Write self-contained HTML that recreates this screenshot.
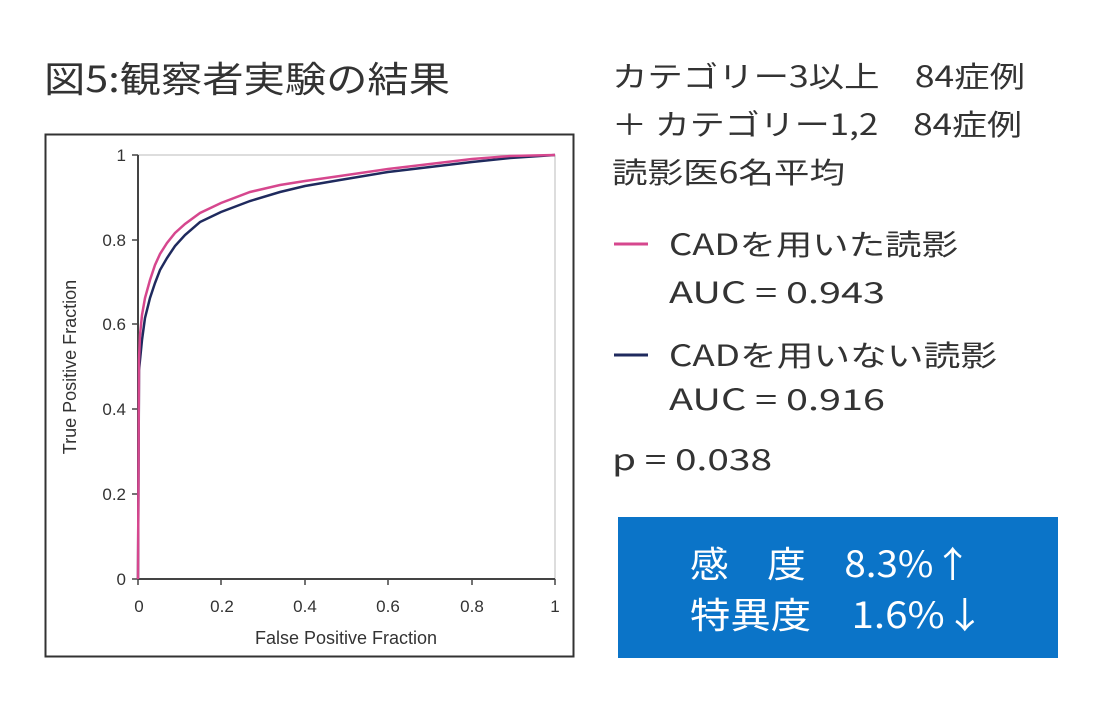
<!DOCTYPE html>
<html><head><meta charset="utf-8"><style>
html,body{margin:0;padding:0;background:#fff;}
svg{display:block}
</style></head><body>
<svg width="1100" height="713" viewBox="0 0 1100 713" xmlns="http://www.w3.org/2000/svg" font-family="'Liberation Sans','Noto Sans CJK JP',sans-serif">
<rect width="1100" height="713" fill="#fff"/>
<g font-family="'Noto Sans CJK JP',sans-serif" fill="#333" lengthAdjust="spacingAndGlyphs">
<text x="44" y="92" font-size="36" textLength="406" lengthAdjust="spacingAndGlyphs">図5:観察者実験の結果</text>
</g>
<rect x="45.5" y="134.5" width="528" height="522" fill="#fff" stroke="#333" stroke-width="2"/>
<rect x="138" y="155" width="417" height="424" fill="none" stroke="#bbb" stroke-width="1"/>
<line x1="138" y1="155" x2="138" y2="579" stroke="#444" stroke-width="2"/>
<line x1="138" y1="579" x2="555" y2="579" stroke="#444" stroke-width="2"/>
<g stroke="#444" stroke-width="1.5">
<line x1="132" y1="155" x2="138" y2="155"/><line x1="132" y1="240" x2="138" y2="240"/><line x1="132" y1="324" x2="138" y2="324"/><line x1="132" y1="409" x2="138" y2="409"/><line x1="132" y1="494" x2="138" y2="494"/><line x1="132" y1="579" x2="138" y2="579"/>
<line x1="138" y1="579" x2="138" y2="585"/><line x1="221" y1="579" x2="221" y2="585"/><line x1="305" y1="579" x2="305" y2="585"/><line x1="388" y1="579" x2="388" y2="585"/><line x1="472" y1="579" x2="472" y2="585"/><line x1="555" y1="579" x2="555" y2="585"/>
</g>
<g font-size="17" fill="#333" text-anchor="end">
<text x="126" y="161">1</text><text x="126" y="246">0.8</text><text x="126" y="330">0.6</text><text x="126" y="415">0.4</text><text x="126" y="500">0.2</text><text x="126" y="585">0</text>
</g>
<g font-size="17" fill="#333" text-anchor="middle">
<text x="139" y="612">0</text><text x="222" y="612">0.2</text><text x="305" y="612">0.4</text><text x="388" y="612">0.6</text><text x="472" y="612">0.8</text><text x="555" y="612">1</text>
<text x="346" y="644" font-size="18">False Positive Fraction</text>
<text transform="translate(76,367) rotate(-90)" font-size="18">True Positive Fraction</text>
</g>
<polyline fill="none" stroke="#1f2a5e" stroke-width="2.5" points="138,579 139,370 140,360 142,340 145,318 150,298 155,283 160,270 167,258 175,246 185,235 200,222 221,212 250,201 280,192 305,186 340,180 388,172 430,167 472,162 510,158 540,156 555,155"/>
<polyline fill="none" stroke="#d6478e" stroke-width="2.5" points="138,579 139,360 140,335 142,315 145,298 150,280 155,265 160,254 167,243 175,233 185,224 200,213 221,203 250,192 280,185 305,181 340,176 388,169 430,164 472,159 510,156 555,155"/>
<g font-size="29" fill="#333" font-family="'Noto Sans CJK JP',sans-serif">
<text x="612" y="87" textLength="413" lengthAdjust="spacingAndGlyphs">カテゴリー3以上　84症例</text>
<text x="612" y="135" textLength="410" lengthAdjust="spacingAndGlyphs">＋ カテゴリー1,2　84症例</text>
<text x="612" y="183" textLength="233" lengthAdjust="spacingAndGlyphs">読影医6名平均</text>
<line x1="614" y1="244" x2="648" y2="244" stroke="#d6478e" stroke-width="3"/>
<text x="669" y="255" textLength="289" lengthAdjust="spacingAndGlyphs">CADを用いた読影</text>
<text x="669" y="303" textLength="216" lengthAdjust="spacingAndGlyphs">AUC = 0.943</text>
<line x1="614" y1="355" x2="648" y2="355" stroke="#1f2a5e" stroke-width="3"/>
<text x="669" y="366" textLength="328" lengthAdjust="spacingAndGlyphs">CADを用いない読影</text>
<text x="669" y="410" textLength="216" lengthAdjust="spacingAndGlyphs">AUC = 0.916</text>
<text x="612" y="470" textLength="160" lengthAdjust="spacingAndGlyphs">p = 0.038</text>
</g>
<rect x="618" y="517" width="440" height="141" fill="#0b74c8"/>
<g font-size="36" fill="#fff" font-family="'Noto Sans CJK JP',sans-serif">
<text x="690" y="577" textLength="282" lengthAdjust="spacingAndGlyphs">感　度　8.3%↑</text>
<text x="690" y="628" textLength="295" lengthAdjust="spacingAndGlyphs">特異度　1.6%↓</text>
</g>
</svg>
</body></html>
